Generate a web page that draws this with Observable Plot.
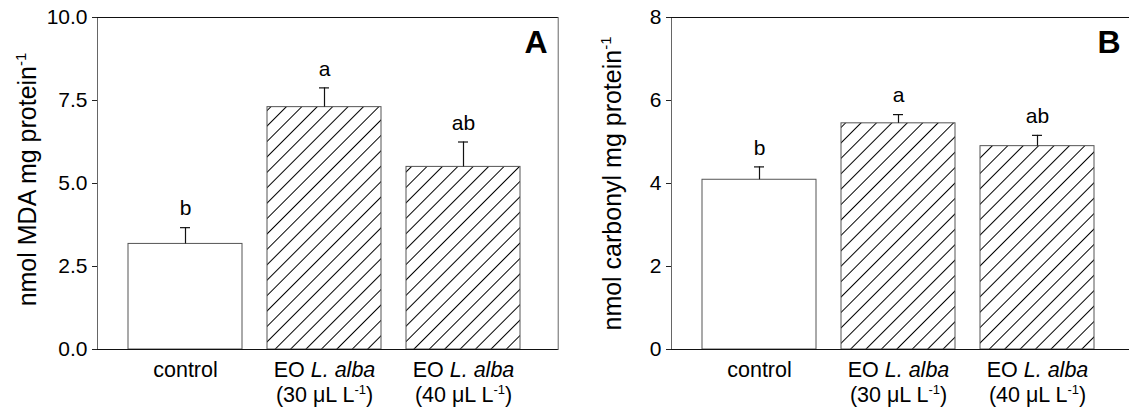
<!DOCTYPE html>
<html><head><meta charset="utf-8">
<script src="https://cdn.jsdelivr.net/npm/d3@7"></script>
<script src="https://cdn.jsdelivr.net/npm/@observablehq/plot@0.6"></script>
<style>
body{margin:0;background:#fff;}
#wrap{position:relative;width:1129px;height:415px;overflow:hidden;background:#fff;}
</style></head><body>
<svg width="0" height="0" style="position:absolute">
  <defs>
    <pattern id="hatch" patternUnits="userSpaceOnUse" width="10.9" height="10.9" patternTransform="rotate(45)">
      <line x1="5.45" y1="-1" x2="5.45" y2="12" stroke="#000" stroke-width="1"/>
    </pattern>
  </defs>
</svg>
<div id="wrap"></div>
<script>
const categories = ["control", "EO30", "EO40"];
const xTickLabels = ["control", "EO <i>L. alba</i>\n(30 μL L<sup>-1</sup>)", "EO <i>L. alba</i>\n(40 μL L<sup>-1</sup>)"];
const hatched = [false, true, true];

const mdaMeans = [3.18, 7.30, 5.50];
const mdaUpper = [3.67, 7.88, 6.25];
const mdaLetters = ["b", "a", "ab"];
const mdaTicks = [0, 2.5, 5, 7.5, 10];
const mdaLabel = "nmol MDA mg protein<sup>-1</sup>";

const carbMeans = [4.09, 5.45, 4.90];
const carbUpper = [4.40, 5.66, 5.16];
const carbLetters = ["b", "a", "ab"];
const carbTicks = [0, 2, 4, 6, 8];
const carbLabel = "nmol carbonyl mg protein<sup>-1</sup>";

const FONT = "'Liberation Sans', Arial, Helvetica, sans-serif";
const NS = "http://www.w3.org/2000/svg";

function richify(node, str, supSize, supShift) {
  while (node.firstChild) node.removeChild(node.firstChild);
  const parts = str.split(/(<i>.*?<\/i>|<sup>.*?<\/sup>)/).filter(s => s);
  let shifted = false;
  for (const p of parts) {
    const ts = document.createElementNS(NS, "tspan");
    let m;
    if ((m = p.match(/^<sup>(.*)<\/sup>$/))) {
      ts.textContent = m[1];
      ts.setAttribute("font-size", supSize);
      ts.setAttribute("dy", -supShift);
      shifted = true;
    } else {
      if ((m = p.match(/^<i>(.*)<\/i>$/))) { ts.textContent = m[1]; ts.setAttribute("font-style", "italic"); }
      else ts.textContent = p;
      if (shifted) { ts.setAttribute("dy", supShift); shifted = false; }
    }
    node.appendChild(ts);
  }
}

function build(cfg) {
  const data = categories.map((c, i) => ({c, v: cfg.means[i], e: cfg.upper[i], L: cfg.letters[i], h: hatched[i]}));
  const svg = Plot.plot({
    width: cfg.width, height: 415,
    marginLeft: cfg.marginLeft, marginRight: 2.3, marginTop: 17, marginBottom: 66,
    style: {fontFamily: FONT, fontSize: "21px", color: "#000", background: "transparent", overflow: "visible"},
    x: {domain: categories, paddingInner: 0.1786, paddingOuter: 0.2347, align: 0.457, axis: null},
    y: {domain: cfg.yDomain, axis: null},
    marks: [
      Plot.barY(data, {filter: d => !d.h, x: "c", y: "v", fill: "white", stroke: "#555", strokeWidth: 1}),
      Plot.barY(data, {filter: d => d.h, x: "c", y: "v", fill: "url(#hatch)", stroke: "#555", strokeWidth: 1}),
      Plot.ruleX(data, {x: "c", y1: "v", y2: "e", stroke: "#111", strokeWidth: 1.2}),
      Plot.tickY(data, {x: "c", y: "e", insetLeft: 52, insetRight: 52, stroke: "#111", strokeWidth: 1.2}),
      Plot.text(data, {x: "c", y: "e", text: "L", dy: -19, fontSize: 21, fill: "#000"}),
      Plot.frame({stroke: "#666"}),
      Plot.ruleY(cfg.yDomain, {stroke: "#111"}),
      Plot.axisY({ticks: cfg.ticks, tickFormat: cfg.fmt, tickSize: 5, tickPadding: 5, fontSize: 21,
        label: "LABEL", labelAnchor: "center", labelOffset: cfg.labelOffset, labelArrow: "none", stroke: "#222"}),
      Plot.axisX({tickSize: 0, tickPadding: 10, fontSize: 21.5, lineHeight: 1.15,
        tickFormat: d => xTickLabels[categories.indexOf(d)], label: null}),
      Plot.text([cfg.tag], {text: d => d, frameAnchor: "top-right", dx: cfg.tagDx, dy: 13, fontSize: 32, fontWeight: "bold", fill: "#000"})
    ]
  });
  svg.style.position = "absolute";
  svg.style.top = "0px";
  svg.style.left = cfg.left + "px";
  svg.querySelectorAll('g[aria-label="x-axis tick label"] text').forEach(t => {
    const spans = t.querySelectorAll("tspan");
    if (spans.length) spans.forEach(s => richify(s, s.textContent, 13, 8));
    else richify(t, t.textContent, 13, 8);
  });
  const lab = svg.querySelector('g[aria-label="y-axis label"] text');
  if (lab) {
    richify(lab, cfg.yLabel, 15, 10);
    lab.setAttribute("font-size", 25);
    lab.closest("g").setAttribute("font-size", 25);
    if (cfg.labelDx) lab.setAttribute("dx", cfg.labelDx);
  }
  return svg;
}

const wrap = document.getElementById("wrap");
wrap.appendChild(build({
  means: mdaMeans, upper: mdaUpper, letters: mdaLetters, yDomain: [0, 10], ticks: mdaTicks,
  fmt: d3.format(".1f"), yLabel: mdaLabel, tag: "A", width: 560, left: 0, marginLeft: 97,
  labelOffset: 79, tagDx: -10.7, labelDx: 4
}));
wrap.appendChild(build({
  means: carbMeans, upper: carbUpper, letters: carbLetters, yDomain: [0, 8], ticks: carbTicks,
  fmt: d3.format("d"), yLabel: carbLabel, tag: "B", width: 574, left: 560, marginLeft: 111,
  labelOffset: 68, tagDx: -11.7, labelDx: 0
}));
</script>
</body></html>
